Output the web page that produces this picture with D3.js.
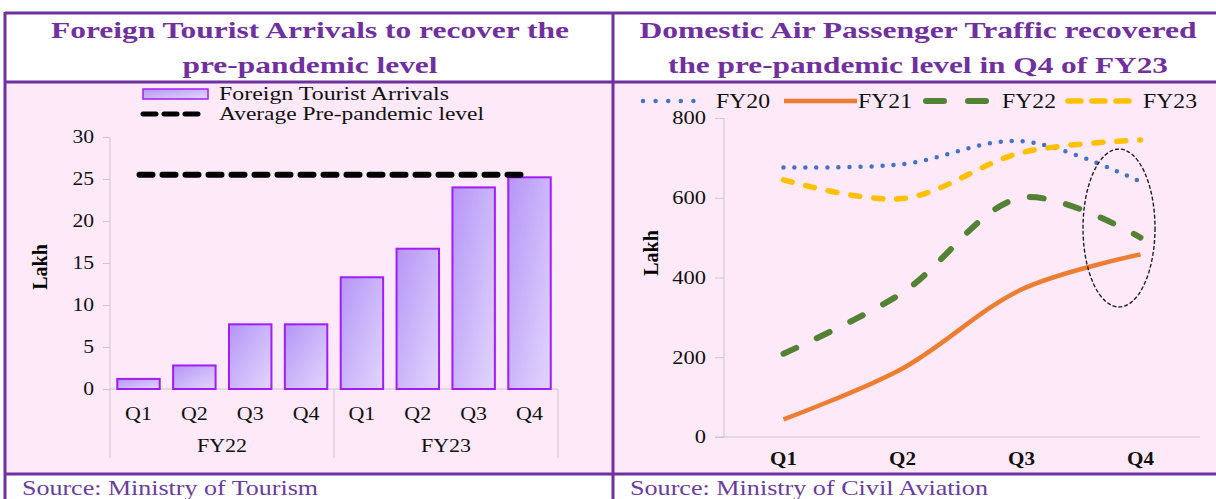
<!DOCTYPE html>
<html>
<head>
<meta charset="utf-8">
<script src="https://cdn.jsdelivr.net/npm/d3@7"></script>
<style>
  body { margin: 0; background: #fff; }
  svg { display: block; font-family: "Liberation Serif", "DejaVu Serif", serif; }
</style>
</head>
<body>
<svg id="chart" width="1216" height="499"></svg>
<script>
// ---- data ----
const quarters = ["Q1", "Q2", "Q3", "Q4"];
const fyGroups = ["FY22", "FY23"];
const ftaValues = [1.2, 2.8, 7.7, 7.7, 13.3, 16.7, 24.0, 25.2];
const prePandemicLevel = 25.5;
const ftaTicks = [0, 5, 10, 15, 20, 25, 30];

const airSeries = ["FY20", "FY21", "FY22", "FY23"];
const fy20 = [676, 684, 742, 640];
const fy21 = [44, 172, 370, 458];
const fy22 = [209, 362, 600, 500];
const fy23 = [645, 598, 713, 745];
const airTicks = [0, 200, 400, 600, 800];

const purple = "#7030a0";
const pink = "#fde9f7";
const axisGrey = "#c8c8c8";
const K = 1.2; // text in the source picture is a little wide

const svg = d3.select("#chart");

// widen text glyphs, keeps it as real text
function stretch(sel, k) {
  sel.each(function () {
    const w = this.getComputedTextLength();
    d3.select(this).attr("textLength", w * k).attr("lengthAdjust", "spacingAndGlyphs");
  });
}

// ---- frame ----
svg.append("rect").attr("x", 5).attr("y", 83).attr("width", 1215).attr("height", 390).attr("fill", pink);
const frame = svg.append("g").attr("stroke", purple).attr("stroke-width", 3);
frame.append("line").attr("x1", 5).attr("x2", 1216).attr("y1", 13).attr("y2", 13);
frame.append("line").attr("x1", 5).attr("x2", 1216).attr("y1", 82).attr("y2", 82);
frame.append("line").attr("x1", 5).attr("x2", 1216).attr("y1", 474).attr("y2", 474);
frame.append("line").attr("x1", 5).attr("x2", 5).attr("y1", 12).attr("y2", 499);
frame.append("line").attr("x1", 613).attr("x2", 613).attr("y1", 12).attr("y2", 499);

// titles (lengths)
const titles = [
  { x: 310, lines: ["Foreign Tourist Arrivals to recover the", "pre-pandemic level"], lens: [518, 255] },
  { x: 918, lines: ["Domestic Air Passenger Traffic recovered", "the pre-pandemic level in Q4 of FY23"], lens: [557, 500] }
];
titles.forEach(t => {
  t.lines.forEach((l, i) => {
    svg.append("text").attr("x", t.x).attr("y", 38 + i * 35)
      .attr("text-anchor", "middle").attr("font-size", 24).attr("font-weight", "bold")
      .attr("fill", purple).attr("textLength", t.lens[i]).attr("lengthAdjust", "spacingAndGlyphs").text(l);
  });
});

// sources
svg.append("text").attr("x", 22).attr("y", 495).attr("font-size", 21).attr("fill", "#6a3c9e")
  .attr("textLength", 296).attr("lengthAdjust", "spacingAndGlyphs").text("Source: Ministry of Tourism");
svg.append("text").attr("x", 630).attr("y", 495).attr("font-size", 21).attr("fill", "#6a3c9e")
  .attr("textLength", 358).attr("lengthAdjust", "spacingAndGlyphs").text("Source: Ministry of Civil Aviation");

// ---- left chart: bars ----
const defs = svg.append("defs");
const grad = defs.append("linearGradient").attr("id", "barGrad")
  .attr("x1", "0%").attr("y1", "0%").attr("x2", "100%").attr("y2", "100%");
grad.append("stop").attr("offset", "0%").attr("stop-color", "#b596f7");
grad.append("stop").attr("offset", "100%").attr("stop-color", "#e2d6fc");

const barCats = fyGroups.flatMap(fy => quarters.map(q => fy + "-" + q));
const xBar = d3.scaleBand().domain(barCats).range([110, 558]).paddingInner(0.24).paddingOuter(0.13);
const yBar = d3.scaleLinear().domain([0, 30]).range([389, 137]);

const left = svg.append("g");
left.append("g").attr("transform", "translate(110,0)")
  .call(d3.axisLeft(yBar).tickValues(ftaTicks).tickSize(7).tickPadding(9))
  .call(g => g.select(".domain").attr("stroke", axisGrey).attr("d", "M0,137V389"))
  .call(g => g.selectAll(".tick line").attr("stroke", axisGrey))
  .call(g => g.selectAll("text").attr("font-size", 18).attr("font-family", "Liberation Serif").attr("fill", "#111").call(stretch, K));

// category axis
left.append("line").attr("x1", 110).attr("x2", 558).attr("y1", 389).attr("y2", 389).attr("stroke", axisGrey);
[110, (xBar(barCats[3]) + xBar.bandwidth() + xBar(barCats[4])) / 2, 558].forEach(x => {
  left.append("line").attr("x1", x).attr("x2", x).attr("y1", 389).attr("y2", 458).attr("stroke", axisGrey);
});

left.selectAll("rect.bar").data(ftaValues).join("rect").attr("class", "bar")
  .attr("x", (d, i) => xBar(barCats[i]))
  .attr("y", d => yBar(d))
  .attr("width", xBar.bandwidth())
  .attr("height", d => yBar(0) - yBar(d))
  .attr("fill", "url(#barGrad)").attr("stroke", "#a31cf5").attr("stroke-width", 2);

left.selectAll("text.q").data(barCats).join("text").attr("class", "q")
  .attr("x", d => xBar(d) + xBar.bandwidth() / 2).attr("y", 420)
  .attr("text-anchor", "middle").attr("font-size", 18).attr("fill", "#111")
  .text(d => d.split("-")[1]).call(stretch, 1.22);
fyGroups.forEach((fy, i) => {
  const x0 = i === 0 ? 110 : (xBar(barCats[3]) + xBar.bandwidth() + xBar(barCats[4])) / 2;
  const x1 = i === 0 ? (xBar(barCats[3]) + xBar.bandwidth() + xBar(barCats[4])) / 2 : 558;
  left.append("text").attr("x", (x0 + x1) / 2).attr("y", 452).attr("text-anchor", "middle")
    .attr("font-size", 18).attr("fill", "#111").text(fy).call(stretch, 1.22);
});

// pre-pandemic line
left.append("line")
  .attr("x1", xBar(barCats[0]) + xBar.bandwidth() / 2 + 1)
  .attr("x2", xBar(barCats[7]) + xBar.bandwidth() / 2)
  .attr("y1", yBar(prePandemicLevel)).attr("y2", yBar(prePandemicLevel))
  .attr("stroke", "#000").attr("stroke-width", 6).attr("stroke-dasharray", "13 10").attr("stroke-linecap", "round");

left.append("text").attr("transform", "translate(47,267) rotate(-90)")
  .attr("text-anchor", "middle").attr("font-size", 20).attr("font-weight", "bold").text("Lakh");

// legend
left.append("rect").attr("x", 143).attr("y", 89).attr("width", 65).attr("height", 10)
  .attr("fill", "url(#barGrad)").attr("stroke", "#a31cf5").attr("stroke-width", 1.5);
left.append("text").attr("x", 219).attr("y", 100).attr("font-size", 19).attr("fill", "#111")
  .attr("textLength", 230).attr("lengthAdjust", "spacingAndGlyphs").text("Foreign Tourist Arrivals");
left.append("line").attr("x1", 143).attr("x2", 204).attr("y1", 114).attr("y2", 114)
  .attr("stroke", "#000").attr("stroke-width", 5).attr("stroke-dasharray", "13 8").attr("stroke-linecap", "round");
left.append("text").attr("x", 219).attr("y", 120).attr("font-size", 19).attr("fill", "#111")
  .attr("textLength", 265).attr("lengthAdjust", "spacingAndGlyphs").text("Average Pre-pandemic level");

// ---- right chart: lines ----
const xAir = d3.scaleBand().domain(quarters).range([724, 1200]);
const yAir = d3.scaleLinear().domain([0, 800]).range([437, 118]);

const right = svg.append("g");
right.append("g").attr("transform", "translate(724,0)")
  .call(d3.axisLeft(yAir).tickValues(airTicks).tickSize(9).tickPadding(9))
  .call(g => g.select(".domain").attr("stroke", axisGrey).attr("d", "M0,118V437"))
  .call(g => g.selectAll(".tick line").attr("stroke", axisGrey))
  .call(g => g.selectAll("text").attr("font-size", 18).attr("font-family", "Liberation Serif").attr("fill", "#111").call(stretch, 1.25));
right.append("line").attr("x1", 715).attr("x2", 1200).attr("y1", 437).attr("y2", 437).attr("stroke", axisGrey);
right.selectAll("text.q").data(quarters).join("text").attr("class", "q")
  .attr("x", d => xAir(d) + xAir.bandwidth() / 2).attr("y", 465)
  .attr("text-anchor", "middle").attr("font-size", 18).attr("font-weight", "bold").attr("fill", "#111")
  .text(d => d).call(stretch, 1.17);

right.append("text").attr("transform", "translate(658,253) rotate(-90)")
  .attr("text-anchor", "middle").attr("font-size", 20).attr("font-weight", "bold").text("Lakh");

const styles = {
  FY20: { data: fy20, color: "#4472c4", width: 4.5, dash: "0 11", cap: "round" },
  FY21: { data: fy21, color: "#ed7d31", width: 4.5, dash: null, cap: "butt" },
  FY22: { data: fy22, color: "#548235", width: 6, dash: "14 23", cap: "round" },
  FY23: { data: fy23, color: "#ffc000", width: 5.5, dash: "9 14", cap: "round" }
};

const line = d3.line()
  .x((d, i) => xAir(quarters[i]) + xAir.bandwidth() / 2)
  .y(d => yAir(d))
  .curve(d3.curveCatmullRom.alpha(0.5));

airSeries.forEach(s => {
  const st = styles[s];
  right.append("path").datum(st.data).attr("d", line)
    .attr("fill", "none").attr("stroke", st.color).attr("stroke-width", st.width)
    .attr("stroke-dasharray", st.dash).attr("stroke-linecap", st.cap);
});

// highlight ellipse around Q4
right.append("ellipse").attr("cx", 1119).attr("cy", 228).attr("rx", 36).attr("ry", 79)
  .attr("fill", "none").attr("stroke", "#222").attr("stroke-width", 1.4).attr("stroke-dasharray", "4 2");

// legend
const legendPos = [
  { s: "FY20", x1: 643, x2: 706, tx: 716, dash: "0 12.6" },
  { s: "FY21", x1: 784, x2: 857, tx: 858, dash: null },
  { s: "FY22", x1: 926, x2: 989, tx: 1002, dash: "18 24" },
  { s: "FY23", x1: 1068, x2: 1131, tx: 1143, dash: "13 11" }
];
legendPos.forEach(p => {
  const st = styles[p.s];
  right.append("line").attr("x1", p.x1).attr("x2", p.x2).attr("y1", 101).attr("y2", 101)
    .attr("stroke", st.color).attr("stroke-width", st.width).attr("stroke-dasharray", p.dash).attr("stroke-linecap", st.cap);
  right.append("text").attr("x", p.tx).attr("y", 108).attr("font-size", 20).attr("fill", "#111")
    .attr("textLength", 54).attr("lengthAdjust", "spacingAndGlyphs").text(p.s);
});
</script>
</body>
</html>
